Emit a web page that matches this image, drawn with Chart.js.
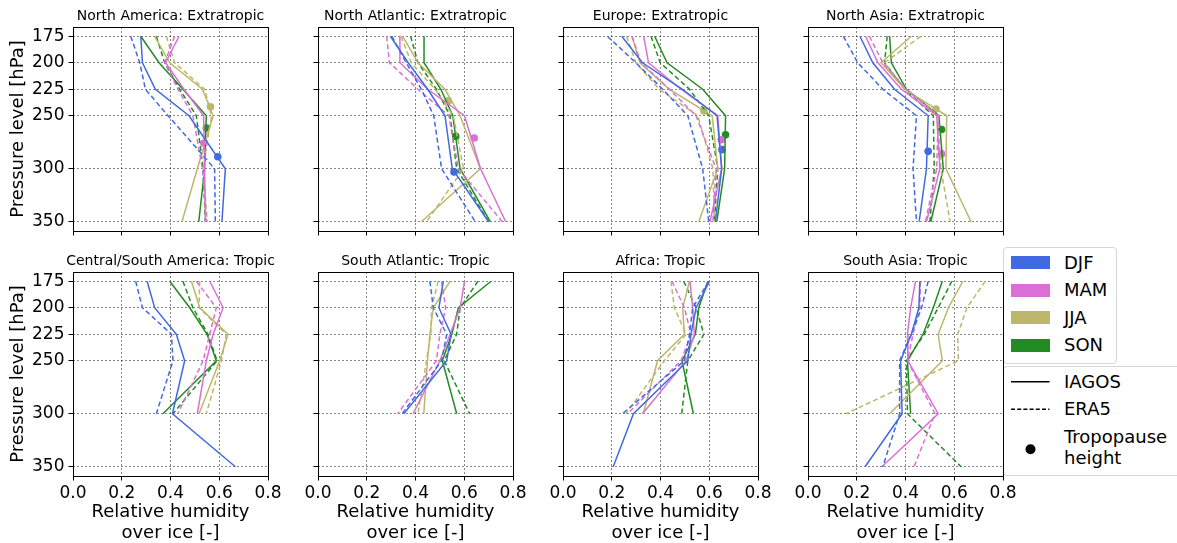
<!DOCTYPE html>
<html><head><meta charset="utf-8">
<script src="https://cdn.jsdelivr.net/npm/chart.js"></script>
<style>
html,body{margin:0;padding:0;background:#fff;width:1177px;height:543px;overflow:hidden;font-family:"DejaVu Sans",sans-serif;}
canvas{position:absolute;}
.box{position:absolute;border:1px solid #d6d6d6;border-radius:4px;background:#fff;box-sizing:border-box;}
.lab{position:absolute;font-size:18px;color:#000;line-height:22px;white-space:nowrap;}
.patch{position:absolute;width:39px;height:13px;}
</style></head><body>
<div id="legend"></div>
<script>
// ---------- data ----------
const levels = [175, 200, 225, 250, 300, 350];
const seasons = ['DJF', 'MAM', 'JJA', 'SON'];
const regionTitles = ['North America: Extratropic', 'North Atlantic: Extratropic', 'Europe: Extratropic', 'North Asia: Extratropic',
  'Central/South America: Tropic', 'South Atlantic: Tropic', 'Africa: Tropic', 'South Asia: Tropic'];

// rows: DJF, MAM, JJA, SON ; values at levels (175..350), shorter rows stop at 300 hPa
const northAmericaIagos = [[0.278,0.285,0.338,0.476,0.625,0.611],[0.435,0.380,0.455,0.536,0.540,0.543],[0.335,0.397,0.531,0.575,0.510,0.447],[0.278,0.353,0.451,0.547,0.540,0.516]];
const northAmericaEra5  = [[0.237,0.274,0.297,0.390,0.581,0.584],[0.417,0.376,0.431,0.492,0.531,0.547],[0.383,0.417,0.540,0.568,0.534,0.551],[0.342,0.376,0.438,0.506,0.534,0.543]];
const northAmericaTropo = [[0.594,288.7],[0.537,276],[0.564,241.5],[0.547,261.6]];

const northAtlanticIagos = [[0.297,0.370,0.450,0.521,0.551,0.700],[0.336,0.336,0.450,0.601,0.667,0.770],[0.348,0.410,0.521,0.583,0.666,0.424],[0.435,0.435,0.504,0.553,0.583,0.707]];
const northAtlanticEra5  = [[0.303,0.362,0.424,0.475,0.507,0.645],[0.282,0.293,0.410,0.537,0.576,0.756],[0.341,0.383,0.480,0.555,0.597,0.445],[0.380,0.410,0.486,0.542,0.569,0.700]];
const northAtlanticTropo = [[0.558,303],[0.641,271],[0.535,236],[0.565,269.5]];

const europeIagos = [[0.241,0.326,0.490,0.632,0.651,0.625],[0.331,0.351,0.484,0.635,0.651,0.603],[0.283,0.316,0.436,0.612,0.635,0.557],[0.376,0.427,0.573,0.667,0.663,0.631]];
const europeEra5  = [[0.182,0.299,0.409,0.512,0.573,0.598],[0.283,0.320,0.436,0.546,0.628,0.615],[0.261,0.299,0.395,0.553,0.615,0.621],[0.361,0.399,0.519,0.598,0.635,0.621]];
const europeTropo = [[0.652,282],[0.649,272.6],[0.578,245.4],[0.667,268]];

const northAsiaIagos = [[0.213,0.266,0.355,0.493,0.486,0.456],[0.236,0.287,0.383,0.528,0.541,0.486],[0.424,0.300,0.397,0.569,0.566,0.669],[0.335,0.342,0.404,0.537,0.555,0.504]];
const northAsiaEra5  = [[0.145,0.204,0.307,0.445,0.431,0.445],[0.252,0.307,0.404,0.534,0.528,0.482],[0.463,0.314,0.400,0.534,0.545,0.583],[0.325,0.314,0.397,0.514,0.518,0.500]];
const northAsiaTropo = [[0.493,283.6],[0.548,286],[0.525,243.7],[0.548,263]];

const centralSouthAmericaIagos = [[0.304,0.335,0.424,0.458,0.408,0.666],[0.561,0.616,0.575,0.547,0.510],[0.486,0.520,0.636,0.602,0.517],[0.397,0.479,0.550,0.588,0.369]];
const centralSouthAmericaEra5  = [[0.257,0.285,0.404,0.410,0.342],[0.506,0.588,0.561,0.534,0.430],[0.520,0.517,0.629,0.609,0.547],[0.451,0.492,0.554,0.591,0.410]];

const southAtlanticIagos = [[0.514,0.496,0.546,0.528,0.352],[0.601,0.583,0.542,0.500,0.390],[0.542,0.473,0.459,0.449,0.434],[0.710,0.576,0.549,0.510,0.569]];
const southAtlanticEra5  = [[0.459,0.473,0.528,0.507,0.345],[0.507,0.524,0.500,0.486,0.327],[0.493,0.466,0.463,0.445,0.410],[0.656,0.583,0.569,0.518,0.622]];

const africaIagos = [[0.601,0.546,0.525,0.512,0.289,0.206],[0.521,0.532,0.539,0.505,0.326],[0.519,0.491,0.498,0.388,0.329],[0.594,0.557,0.543,0.488,0.535]];
const africaEra5  = [[0.598,0.532,0.519,0.498,0.244],[0.447,0.498,0.525,0.484,0.265],[0.443,0.457,0.505,0.416,0.258],[0.495,0.546,0.578,0.512,0.487]];

const southAsiaIagos = [[0.459,0.455,0.424,0.380,0.386,0.234],[0.441,0.421,0.408,0.410,0.534,0.303],[0.635,0.576,0.534,0.551,0.335],[0.551,0.514,0.472,0.408,0.421]];
const southAsiaEra5  = [[0.493,0.466,0.424,0.376,0.376,0.307],[0.461,0.459,0.431,0.408,0.521,0.435],[0.727,0.652,0.614,0.617,0.156],[0.590,0.534,0.477,0.404,0.408,0.628]];

const xTicks = [0, 0.2, 0.4, 0.6, 0.8];

// ---------- styling ----------
const seasonColors = ['#4169E1', '#DA70D6', '#BDB76B', '#228B22'];
const FONT = 'DejaVu Sans';
Chart.defaults.font.family = FONT;
Chart.defaults.color = '#000';

const panels = [
  [northAmericaIagos, northAmericaEra5, northAmericaTropo],
  [northAtlanticIagos, northAtlanticEra5, northAtlanticTropo],
  [europeIagos, europeEra5, europeTropo],
  [northAsiaIagos, northAsiaEra5, northAsiaTropo],
  [centralSouthAmericaIagos, centralSouthAmericaEra5, null],
  [southAtlanticIagos, southAtlanticEra5, null],
  [africaIagos, africaEra5, null],
  [southAsiaIagos, southAsiaEra5, null]
];

const toPoints = arr => arr.map((v, i) => ({x: v, y: levels[i]}));

const framePlugin = {
  id: 'frame',
  afterDatasetsDraw(chart) {
    const {ctx, chartArea: a} = chart;
    ctx.save();
    ctx.strokeStyle = '#000';
    ctx.lineWidth = 1;
    ctx.strokeRect(Math.round(a.left) + 0.5, Math.round(a.top) + 0.5, Math.round(a.right - a.left), Math.round(a.bottom - a.top));
    ctx.restore();
  }
};
const titlePlugin = {
  id: 'ptitle',
  afterDraw(chart, args, opts) {
    const {ctx, chartArea: a} = chart;
    ctx.save();
    ctx.font = '14px "' + FONT + '"';
    ctx.fillStyle = '#000';
    ctx.textAlign = 'center';
    ctx.textBaseline = 'middle';
    ctx.fillText(opts.text, (a.left + a.right) / 2, a.top - 10.5);
    ctx.restore();
  }
};

const padL = 73, padT = 27, padR = 24, padB = 72, W = 195, H = 204;

panels.forEach((p, idx) => {
  const col = idx % 4, row = Math.floor(idx / 4);
  const L = 73 + col * 245, T = row === 0 ? 27 : 272;
  const cv = document.createElement('canvas');
  cv.width = padL + W + padR; cv.height = padT + H + padB;
  cv.style.left = (L - padL) + 'px'; cv.style.top = (T - padT) + 'px';
  document.body.appendChild(cv);

  const [iagos, era5, tropo] = p;
  const datasets = [];
  for (let s = 0; s < 4; s++) {
    datasets.push({data: toPoints(iagos[s]), showLine: true, borderColor: seasonColors[s], borderWidth: 1.5, pointRadius: 0, fill: false});
    datasets.push({data: toPoints(era5[s]), showLine: true, borderColor: seasonColors[s], borderWidth: 1.5, borderDash: [5, 3], pointRadius: 0, fill: false});
  }
  if (tropo) {
    for (let s = 0; s < 4; s++) {
      datasets.push({data: [{x: tropo[s][0], y: tropo[s][1]}], showLine: false, pointRadius: 3.8, pointBackgroundColor: seasonColors[s], pointBorderWidth: 0, borderColor: seasonColors[s]});
    }
  }

  new Chart(cv, {
    type: 'scatter',
    data: {datasets},
    options: {
      responsive: false, animation: false, devicePixelRatio: 1,
      layout: {padding: {top: padT, right: padR, left: 0, bottom: 0}},
      plugins: {legend: {display: false}, tooltip: {enabled: false}, ptitle: {text: regionTitles[idx]}},
      scales: {
        x: {
          type: 'linear', min: 0, max: 0.8, position: 'bottom',
          afterBuildTicks: s => { s.ticks = xTicks.map(v => ({value: v})); },
          ticks: {display: row === 1, autoSkip: false, maxRotation: 0, font: {size: 17}, color: '#000', padding: 3,
                  callback: v => Number(v).toFixed(1)},
          grid: {color: 'rgba(0,0,0,0.6)', lineWidth: 0.8, drawTicks: true, tickLength: 4.5, tickColor: '#000', tickWidth: 1, tickBorderDash: [], tickBorderDashOffset: 0},
          border: {display: false, dash: [2, 2]},
          title: {display: row === 1, text: ['Relative humidity', 'over ice [-]'], font: {size: 18}, color: '#000', padding: {top: 0, bottom: 3.5}},
          afterFit: s => { s.height = padB; }
        },
        y: {
          type: 'linear', reverse: true, min: 166.25, max: 358.75,
          afterBuildTicks: s => { s.ticks = levels.map(v => ({value: v})); },
          ticks: {display: col === 0, autoSkip: false, font: {size: 17}, color: '#000', padding: 4},
          grid: {color: 'rgba(0,0,0,0.6)', lineWidth: 0.8, drawTicks: true, tickLength: 4.5, tickColor: '#000', tickWidth: 1, tickBorderDash: [], tickBorderDashOffset: 0},
          border: {display: false, dash: [2, 2]},
          title: {display: col === 0, text: 'Pressure level [hPa]', font: {size: 18}, color: '#000', padding: {top: 7.5, bottom: 0}},
          afterFit: s => { s.width = padL; }
        }
      }
    },
    plugins: [framePlugin, titlePlugin]
  });
});

// ---------- legend (HTML) ----------
const lg = document.getElementById('legend');
let html = '<div class="box" style="left:1003px;top:247px;width:114px;height:117px;"></div>';
seasons.forEach((s, i) => {
  const cy = 262.7 + i * 27.5;
  html += '<div class="patch" style="left:1011px;top:' + (cy - 6.5) + 'px;background:' + seasonColors[i] + ';"></div>';
  html += '<div class="lab" style="left:1064px;top:' + (cy - 11) + 'px;">' + s + '</div>';
});
html += '<div class="box" style="left:1003px;top:366px;width:190px;height:110px;"></div>';
html += '<svg style="position:absolute;left:1010px;top:370px;" width="42" height="90">' +
  '<line x1="1" y1="11.7" x2="39.5" y2="11.7" stroke="#000" stroke-width="1.5"/>' +
  '<line x1="1" y1="39.3" x2="39.5" y2="39.3" stroke="#000" stroke-width="1.5" stroke-dasharray="4,2.2"/>' +
  '<circle cx="20.5" cy="79.3" r="5" fill="#000"/></svg>';
html += '<div class="lab" style="left:1064px;top:' + (381.7 - 11) + 'px;">IAGOS</div>';
html += '<div class="lab" style="left:1064px;top:' + (409.3 - 11) + 'px;">ERA5</div>';
html += '<div class="lab" style="left:1064px;top:' + (436.7 - 11) + 'px;">Tropopause</div>';
html += '<div class="lab" style="left:1064px;top:' + (458 - 11) + 'px;">height</div>';
lg.innerHTML = html;
</script>
</body></html>
